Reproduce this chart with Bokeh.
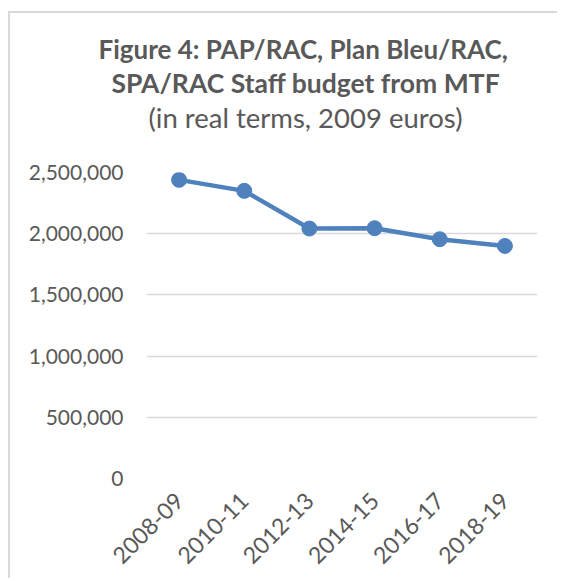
import math
from bokeh.plotting import figure
from bokeh.models import (FactorRange, Range1d, FixedTicker, NumeralTickFormatter,
                          Title, ColumnDataSource)
from bokeh.embed import file_html
from bokeh.resources import INLINE

# ---- data ----
categories = ["2008-09", "2010-11", "2012-13", "2014-15", "2016-17", "2018-19"]
staff_budget = [2440000, 2350000, 2042000, 2045000, 1955000, 1900000]
y_ticks = [0, 500000, 1000000, 1500000, 2000000, 2500000]
title_line1 = "Figure 4: PAP/RAC, Plan Bleu/RAC,"
title_line2 = "SPA/RAC Staff budget from MTF"
subtitle = "(in real terms, 2009 euros)"

TEXT = "#595959"
BLUE = "#4F81BD"
FONT = "Lato"

src = ColumnDataSource(dict(cat=categories, val=staff_budget))

p = figure(x_range=FactorRange(*categories, range_padding=0),
           y_range=Range1d(0, 2500000),
           frame_width=391, frame_height=306,
           min_border_left=136, min_border_right=20,
           min_border_top=159, min_border_bottom=100,
           output_backend="svg", toolbar_location=None)
p.styles = {"border-left": "2px solid #d9d9d9",
            "border-top": "2px solid #d9d9d9",
            "margin-left": "8px",
            "margin-top": "11px"}

p.outline_line_color = None
p.background_fill_color = "white"
p.border_fill_color = "white"

# titles (added bottom-up)
p.add_layout(Title(text=" ", text_font_size="10px", standoff=26), "above")
p.add_layout(Title(text=subtitle, text_font=FONT, text_font_size="27.5px",
                   text_font_style="normal", text_color=TEXT,
                   align="left", offset=2, standoff=0), "above")
p.add_layout(Title(text=title_line2, text_font=FONT, text_font_size="26.5px",
                   text_font_style="bold", text_color=TEXT,
                   align="left", offset=-35, standoff=0), "above")
p.add_layout(Title(text=title_line1, text_font=FONT, text_font_size="26px",
                   text_font_style="bold", text_color=TEXT,
                   align="left", offset=-48, standoff=0), "above")

p.line("cat", "val", source=src, line_color=BLUE, line_width=4.5)
p.scatter("cat", "val", source=src, size=15, fill_color=BLUE, line_color=BLUE)

# axes
p.yaxis.ticker = FixedTicker(ticks=y_ticks)
p.yaxis.formatter = NumeralTickFormatter(format="0,0")
for ax in (p.xaxis, p.yaxis):
    ax.axis_line_color = None
    ax.major_tick_line_color = None
    ax.minor_tick_line_color = None
    ax.major_tick_out = 0
    ax.major_tick_in = 0
    ax.major_label_text_font = FONT
    ax.major_label_text_color = TEXT
p.yaxis.major_label_text_font_size = "21px"
p.xaxis.major_label_text_font_size = "23px"
p.yaxis.major_label_standoff = 23
p.xaxis.major_label_orientation = math.pi / 4
p.xaxis.major_label_standoff = 18

p.xgrid.grid_line_color = None
p.ygrid.grid_line_color = "#d9d9d9"
p.ygrid.grid_line_width = 1.5

open("out.html", "w").write(file_html(p, INLINE))
